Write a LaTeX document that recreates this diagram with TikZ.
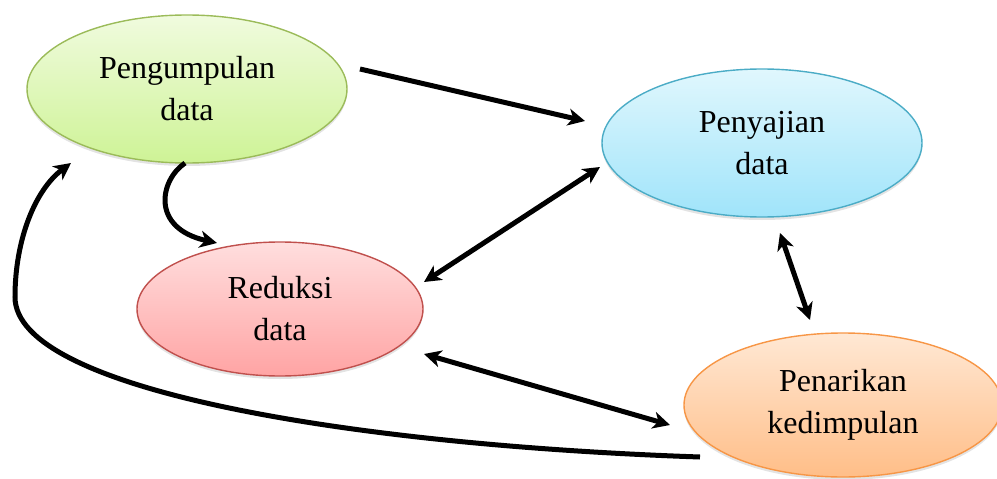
\documentclass[tikz,border=0pt]{standalone}
\usepackage{fontspec}
\setmainfont{Liberation Serif}
\usetikzlibrary{shapes.geometric,arrows.meta,shadows}
\begin{document}
\begin{tikzpicture}[x=1pt,y=-1pt,
  oval/.style={ellipse, inner sep=0pt, line width=1.4pt, align=center,
    font=\fontsize{32}{42}\selectfont,
    drop shadow={opacity=0.22, shadow xshift=0pt, shadow yshift=-3pt}},
  conn/.style={line width=5pt, black},
  otip/.tip={Stealth[length=17pt,width=17pt,inset=5pt]}]
\useasboundingbox (0,0) rectangle (997,479);
\node[oval, minimum width=320pt, minimum height=148pt, draw={rgb,255:red,155;green,187;blue,89},
  top color={rgb,255:red,240;green,251;blue,222}, bottom color={rgb,255:red,206;green,243;blue,150}]
  (peng) at (187,89) {Pengumpulan\\data};
\node[oval, minimum width=320pt, minimum height=148pt, draw={rgb,255:red,75;green,172;blue,198},
  top color={rgb,255:red,224;green,247;blue,253}, bottom color={rgb,255:red,160;green,228;blue,250}]
  (peny) at (762,143) {Penyajian\\data};
\node[oval, minimum width=286pt, minimum height=134pt, draw={rgb,255:red,192;green,80;blue,77},
  top color={rgb,255:red,255;green,222;blue,222}, bottom color={rgb,255:red,255;green,164;blue,164}]
  (redu) at (280,309) {Reduksi\\data};
\node[oval, minimum width=318pt, minimum height=144pt, draw={rgb,255:red,247;green,150;blue,70},
  top color={rgb,255:red,255;green,232;blue,212}, bottom color={rgb,255:red,255;green,190;blue,136}]
  (pena) at (843,405) {Penarikan\\kedimpulan};
% endpoints
\coordinate (a1s) at (360,69);
\coordinate (a1e) at (585,121);
\coordinate (a2s) at (424,282);
\coordinate (a2e) at (600,167);
\coordinate (a3s) at (780,233);
\coordinate (a3e) at (810,320);
\coordinate (a4s) at (424,354);
\coordinate (a4e) at (670,425);
\coordinate (a5s) at (185,163);
\coordinate (a5e) at (217,243);
\coordinate (a6s) at (700,457);
\coordinate (a6m) at (15,297);
\coordinate (a6e) at (71,163);
\draw[conn, -otip] (a1s) -- (a1e);
\draw[conn, otip-otip] (a2s) -- (a2e);
\draw[conn, otip-otip] (a3s) -- (a3e);
\draw[conn, otip-otip] (a4s) -- (a4e);
\draw[conn, -otip] (a5s) .. controls (160,180) and (150,228) .. (a5e);
\draw[conn, -otip] (a6s) .. controls (350,445) and (15,390) .. (a6m)
  .. controls (15,240) and (35,190) .. (a6e);
\end{tikzpicture}
\end{document}
